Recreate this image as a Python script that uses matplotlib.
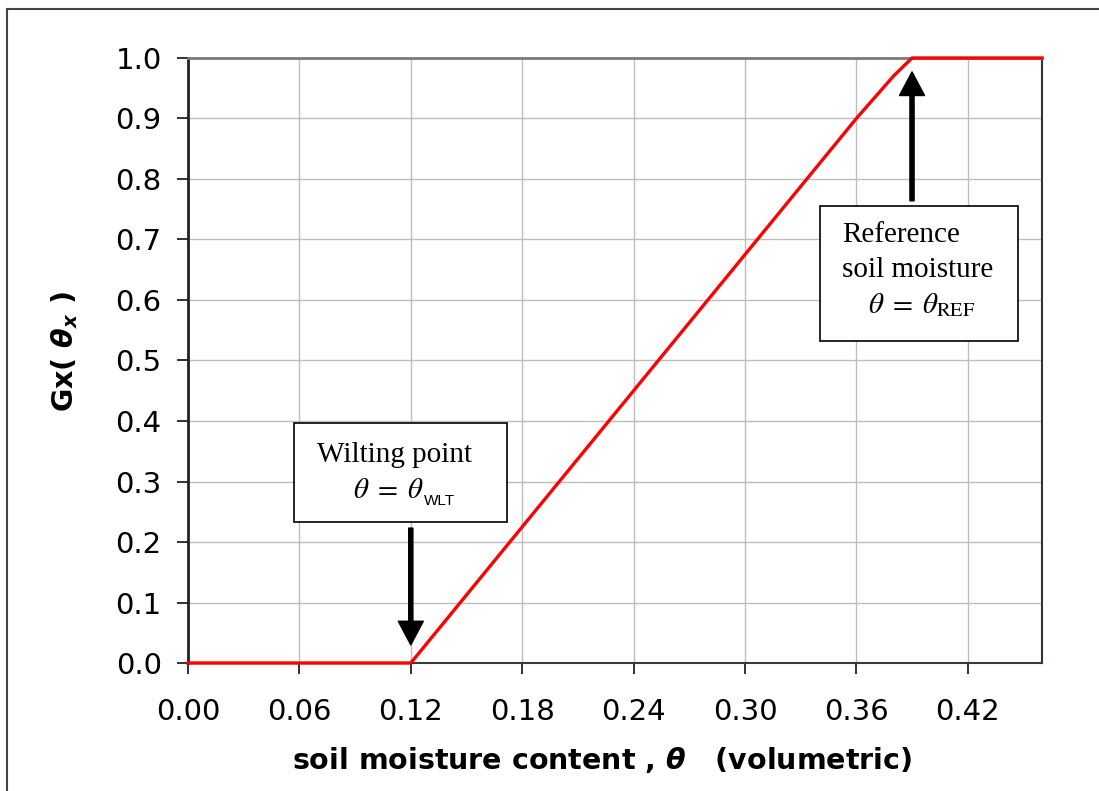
import numpy as np
import matplotlib.pyplot as plt
from matplotlib.patches import Rectangle
from matplotlib.lines import Line2D

# Stress function Gx(theta) against volumetric soil moisture
theta = [0.00, 0.12, 0.18, 0.24, 0.30, 0.36, 0.38, 0.39, 0.46]
gx = [0.00, 0.00, 0.225, 0.45, 0.675, 0.90, 0.97, 1.00, 1.00]

theta_wlt = 0.12
theta_ref = 0.39

xticks = np.arange(0, 0.421, 0.06)
yticks = np.arange(0, 1.01, 0.1)

plt.rcParams['font.family'] = ['DejaVu Sans']

fig = plt.figure(figsize=(10.99, 7.91), dpi=100)
ax = fig.add_axes([0.1711, 0.1618, 0.777, 0.7649])

ax.plot(theta, gx, color='#ff0000', lw=2.4, clip_on=False, zorder=5)

ax.set_xlim(0, 0.46)
ax.set_ylim(0, 1.0)
ax.set_xticks(xticks)
ax.set_xticklabels(['%.2f' % v for v in xticks])
ax.set_yticks(yticks)
ax.set_yticklabels(['%.1f' % v for v in yticks])
ax.tick_params(axis='both', labelsize=21, length=8, width=1.3, direction='out', color='#222')
ax.tick_params(axis='x', pad=17)
ax.tick_params(axis='y', pad=11)
ax.grid(True, color='#bdbdbd', lw=1)
ax.set_axisbelow(True)

ax.spines['left'].set_color('#222222')
ax.spines['left'].set_linewidth(2)
ax.spines['bottom'].set_color('#2f3f3f')
ax.spines['bottom'].set_linewidth(1.5)
ax.spines['top'].set_color('#7a7a7a')
ax.spines['top'].set_linewidth(2)
ax.spines['right'].set_color('#333333')
ax.spines['right'].set_linewidth(1.5)

# axis titles
fig.text(0.548, 0.039, r'soil moisture content , $\boldsymbol{\theta}$   (volumetric)',
         fontsize=20.5, fontweight='bold', ha='center', va='center',
         math_fontfamily='dejavusans')
fig.text(0.059, 0.555, r'Gx( $\boldsymbol{\theta}_{\boldsymbol{x}}$ )',
         fontsize=20.5, fontweight='bold', ha='center', va='center', rotation=90,
         math_fontfamily='dejavusans')

# wilting point callout
ax.add_patch(Rectangle((0.0573, 0.233), 0.1146, 0.164, facecolor='white',
                       edgecolor='black', lw=1.2, zorder=6))
ax.text(0.0697, 0.333, 'Wilting point', family='Liberation Serif', fontsize=21,
        va='baseline', zorder=7)
eq_wlt = ax.text(0.0886, 0.273, r'$\theta\;=\;\theta$', fontsize=21,
                 va='baseline', math_fontfamily='stix', zorder=7)
ax.annotate('WLT', xy=(1, 0), xycoords=eq_wlt, xytext=(1, -1),
            textcoords='offset points', family='Liberation Sans', fontsize=11,
            va='baseline', ha='left', zorder=7)
ax.annotate('', xy=(theta_wlt, 0.03), xytext=(theta_wlt, 0.223),
            arrowprops=dict(facecolor='black', edgecolor='black', width=3,
                            headwidth=18, headlength=17, shrink=0), zorder=7)

# reference soil moisture callout
ax.add_patch(Rectangle((0.3405, 0.532), 0.1065, 0.223, facecolor='white',
                       edgecolor='black', lw=1.2, zorder=6))
ax.text(0.3524, 0.696, 'Reference', family='Liberation Serif', fontsize=21,
        va='baseline', zorder=7)
ax.text(0.3524, 0.638, 'soil moisture', family='Liberation Serif', fontsize=21,
        va='baseline', zorder=7)
ax.text(0.3665, 0.579, r'$\theta\;=\;\theta_{\mathrm{REF}}$', fontsize=21,
        va='baseline', math_fontfamily='stix', zorder=7)
ax.annotate('', xy=(theta_ref, 0.977), xytext=(theta_ref, 0.764),
            arrowprops=dict(facecolor='black', edgecolor='black', width=3,
                            headwidth=18, headlength=17, shrink=0), zorder=7)

# outer frame
fig.add_artist(Line2D([7 / 1099, 1.0], [1 - 9 / 791, 1 - 9 / 791],
                      transform=fig.transFigure, color='#444444', lw=1.5))
fig.add_artist(Line2D([7 / 1099, 7 / 1099], [0.0, 1 - 9 / 791],
                      transform=fig.transFigure, color='#444444', lw=1.5))

fig.savefig('out.png', dpi=100)
